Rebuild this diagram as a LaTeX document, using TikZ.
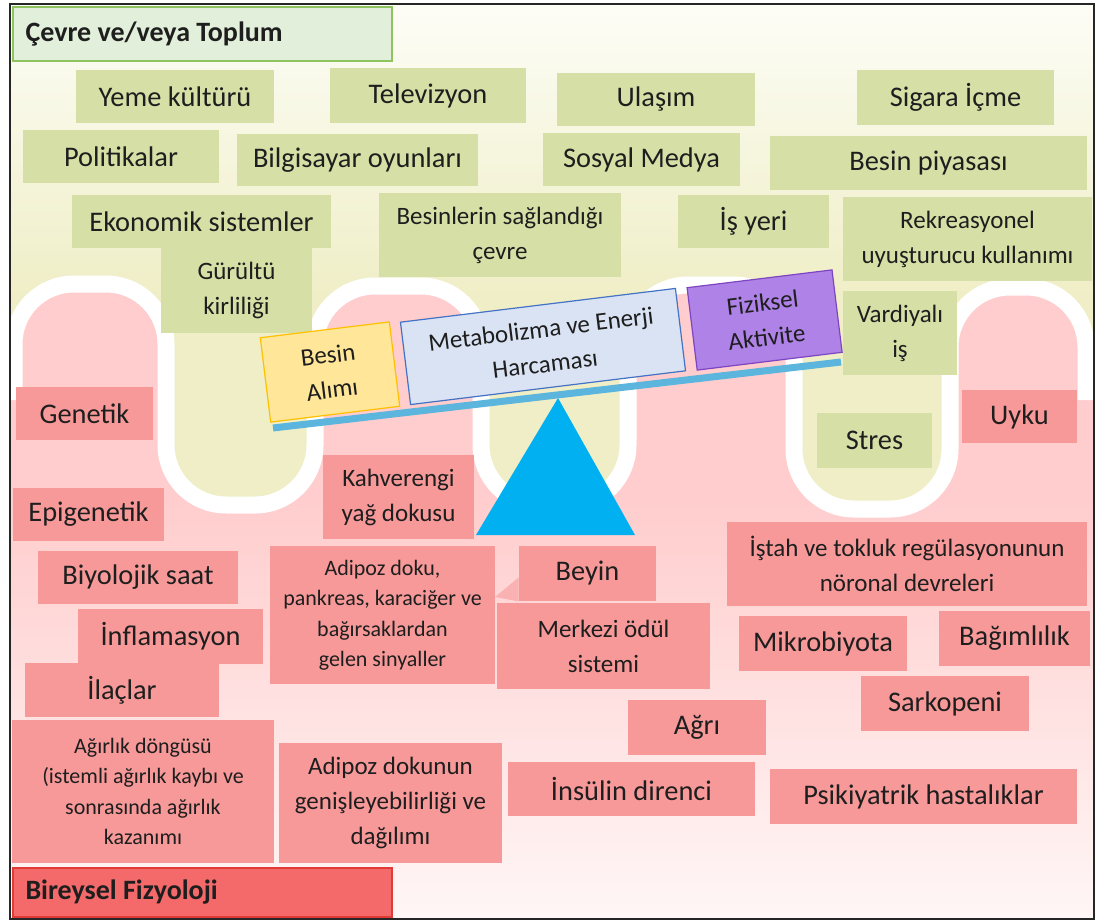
\documentclass[tikz,border=0pt]{standalone}
\usepackage{fontspec}
\setmainfont{Carlito}
\definecolor{txtcol}{HTML}{1E1E1E}
\definecolor{bgyellow}{HTML}{EFEEC6}
\definecolor{bgtop}{HTML}{FDFDF7}
\definecolor{bgpink}{HTML}{FFCDCD}
\definecolor{bgpinklow}{HTML}{FFF6F6}
\definecolor{envfill}{HTML}{D6DFA6}
\definecolor{physfill}{HTML}{F79999}
\definecolor{envhead}{HTML}{E2EFDA}
\definecolor{envheadline}{HTML}{8DC460}
\definecolor{physhead}{HTML}{F46A6A}
\definecolor{physheadline}{HTML}{E23A36}
\definecolor{intakefill}{HTML}{FFE699}
\definecolor{intakeline}{HTML}{FFC000}
\definecolor{metafill}{HTML}{DAE3F3}
\definecolor{metaline}{HTML}{4472C4}
\definecolor{actfill}{HTML}{AE82E6}
\definecolor{actline}{HTML}{7E45C2}
\definecolor{beamcol}{HTML}{5BB5DC}
\definecolor{fulcrumcol}{HTML}{00B0F0}
\tikzset{
  wh/.style 2 args={minimum width=#1*0.5pt, minimum height=#2*0.5pt},
  box/.style={inner sep=0pt, align=center, text=txtcol},
  envbox/.style={box, fill=envfill},
  physbox/.style={box, fill=physfill},
  headbox/.style={box, align=flush left, text width=177pt, font=\fontsize{14}{17}\bfseries\selectfont},
  big/.style={font=\fontsize{14.2}{17}\selectfont},
  mid/.style={font=\fontsize{12.5}{17.5}\selectfont},
  small/.style={font=\fontsize{11}{15.25}\selectfont},
  seesawbox/.style={box, mid, rotate=7, line width=0.6pt},
  band/.style={white, line width=8.5pt, rounded corners=30pt},
}
\begin{document}
\begin{tikzpicture}[x=0.5pt, y=-0.5pt]
  \useasboundingbox (0,0) rectangle (1098,920);
  % background: environment above, physiology below
  \begin{scope}
    \clip (10,4) rectangle (1093,918);
    \fill[bgyellow] (10,4) rectangle (1093,918);
    \shade[top color=bgtop, bottom color=bgyellow] (10,4) rectangle (1093,300);
    \begin{scope}
      \clip (14,700) [rounded corners=30pt] -- (14,284) -- (166,284) -- (166,505) -- (315,505)
        -- (315,286) -- (481,286) -- (481,505) -- (628,505) -- (628,285) -- (794,285)
        -- (794,509) -- (950,509) -- (950,287) -- (1086,287) -- (1086,700)
        [sharp corners] -- (1086,918) -- (14,918) -- cycle;
      \fill[bgpink] (10,280) rectangle (1093,918);
      \shade[top color=bgpink, bottom color=bgpinklow] (10,500) rectangle (1093,918);
    \end{scope}
    \shade[top color=bgpink, bottom color=bgpinklow] (1086,500) rectangle (1093,918);
    \shade[top color=bgpink, bottom color=bgpinklow] (10,500) rectangle (14,918);
    \fill[bgpink] (1086,360) rectangle (1093,500);
    \fill[bgpink] (10,360) rectangle (14,500);
    \draw[band] (14,400) -- (14,284) -- (166,284) -- (166,505) -- (315,505)
      -- (315,286) -- (481,286) -- (481,505) -- (628,505) -- (628,285) -- (794,285)
      -- (794,509) -- (950,509) -- (950,287) -- (1086,287) -- (1086,400);
  \end{scope}

  % headings
  \node[headbox, fill=envhead, draw=envheadline, line width=0.8pt, wh={379}{54}] (envhead) at (202.5,34) {Çevre ve/veya Toplum};
  \node[headbox, fill=physhead, draw=physheadline, line width=0.8pt, wh={379}{49}] (physhead) at (202.5,892.5) {Bireysel Fizyoloji};

  % environment / society
  \node[envbox, big, wh={198}{53}] (yeme) at (175,96.5) {Yeme kültürü};
  \node[envbox, big, wh={196}{55}] (tv) at (428,95.5) {Televizyon};
  \node[envbox, big, wh={198}{53}] (ulasim) at (656,99.5) {Ulaşım};
  \node[envbox, big, wh={197}{55}] (sigara) at (955.5,97.5) {Sigara İçme};
  \node[envbox, big, wh={196}{53}] (politika) at (121,156.5) {Politikalar};
  \node[envbox, big, wh={241}{52}] (oyun) at (357.5,160) {Bilgisayar oyunları};
  \node[envbox, big, wh={197}{53}] (medya) at (641.5,159.5) {Sosyal Medya};
  \node[envbox, big, wh={317}{54}] (piyasa) at (928.5,163) {Besin piyasası};
  \node[envbox, big, wh={259}{53}] (ekonomi) at (201.5,221.5) {Ekonomik sistemler};
  \node[envbox, mid, wh={151}{85}] (gurultu) at (236.5,290.5) {Gürültü\\kirliliği};
  \node[envbox, mid, wh={242}{84}] (besinler) at (500,235) {Besinlerin sağlandığı\\çevre};
  \node[envbox, big, wh={151}{53}] (isyeri) at (753.5,221.5) {İş yeri};
  \node[envbox, mid, wh={249}{84}] (rekreasyon) at (967.5,239) {Rekreasyonel\\uyuşturucu kullanımı};
  \node[envbox, mid, wh={114}{84}] (vardiya) at (900,333) {Vardiyalı\\iş};
  \node[envbox, big, wh={115}{55}] (stres) at (874.5,440.5) {Stres};

  % individual physiology
  \node[physbox, big, wh={137}{53}] (genetik) at (84.5,413.5) {Genetik};
  \node[physbox, big, wh={151}{53}] (epigenetik) at (88.5,514.5) {Epigenetik};
  \node[physbox, mid, wh={151}{84}] (kahve) at (398.5,497) {Kahverengi\\yağ dokusu};
  \node[physbox, big, wh={200}{53}] (saat) at (138,577.5) {Biyolojik saat};
  \node[physbox, big, wh={185}{55}] (inflamasyon) at (170.5,636.5) {İnflamasyon};
  \node[physbox, big, wh={194}{54}] (ilac) at (122,690) {İlaçlar};
  \node[physbox, small, wh={262}{143}] (dongu) at (143,791.5) {Ağırlık döngüsü\\(istemli ağırlık kaybı ve\\sonrasında ağırlık\\kazanımı};
  \node[physbox, small, wh={225}{138}] (sinyal) at (382.5,615) {Adipoz doku,\\pankreas, karaciğer ve\\bağırsaklardan\\gelen sinyaller};
  \node[physbox, mid, wh={223}{120}] (genisleme) at (390.5,803) {Adipoz dokunun\\genişleyebilirliği ve\\dağılımı};
  \node[physbox, big, wh={137}{55}] (beyin) at (587.5,573.5) {Beyin};
  \coordinate (tip) at (495,597);
  \fill[physfill, opacity=0.6] (beyin.west) ++(0,4) -- (tip) -- (beyin.south west) -- cycle;
  \node[physbox, mid, wh={213}{86}] (odul) at (603.5,646) {Merkezi ödül\\sistemi};
  \node[physbox, mid, wh={360}{84}] (istah) at (907,564) {İştah ve tokluk regülasyonunun\\nöronal devreleri};
  \node[physbox, big, wh={115}{53}] (uyku) at (1019.5,416.5) {Uyku};
  \node[physbox, big, wh={168}{55}] (mikrobiyota) at (823,643.5) {Mikrobiyota};
  \node[physbox, big, wh={151}{55}] (bagimlilik) at (1014.5,638.5) {Bağımlılık};
  \node[physbox, big, wh={168}{55}] (sarkopeni) at (945,703.5) {Sarkopeni};
  \node[physbox, big, wh={138}{55}] (agri) at (697,727.5) {Ağrı};
  \node[physbox, big, wh={247}{54}] (insulin) at (631.5,789) {İnsülin direnci};
  \node[physbox, big, wh={307}{55}] (psikiyatri) at (923.5,796.5) {Psikiyatrik hastalıklar};

  % seesaw
  \fill[fulcrumcol] (558,398) coordinate (apex) -- (476,535) -- (635,535) -- cycle;
  \coordinate (beamL) at (273,428);
  \coordinate (beamR) at (841,362);
  \draw[beamcol, line width=3.5pt] (beamL) -- (beamR);
  \node[seesawbox, fill=intakefill, draw=intakeline, wh={130}{85}] (alim) at (330,372) {Besin\\Alımı};
  \node[seesawbox, fill=metafill, draw=metaline, wh={277}{83}] (metabolizma) at (543,346.5) {Metabolizma ve Enerji\\Harcaması};
  \node[seesawbox, fill=actfill, draw=actline, wh={146}{83}] (aktivite) at (764.6,320) {Fiziksel\\Aktivite};

  % frame
  \draw[black!85, line width=1pt] (9.5,4) rectangle (1093.5,918.5);
\end{tikzpicture}
\end{document}
